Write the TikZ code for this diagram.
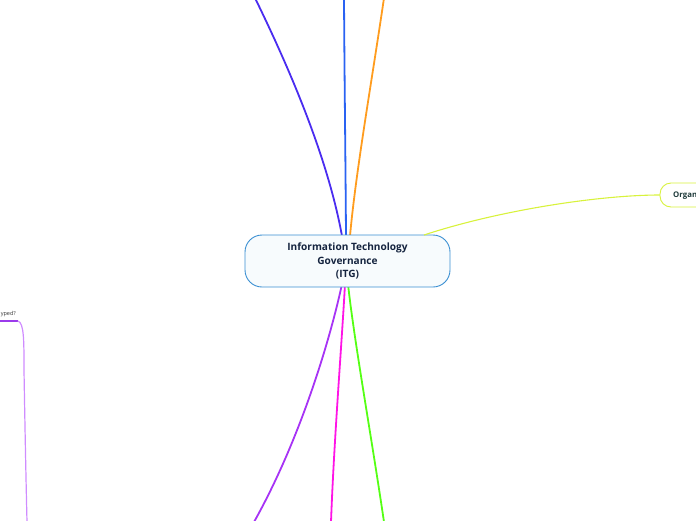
\documentclass[tikz,border=0pt]{standalone}
\usepackage{fontspec}
\setmainfont{Open Sans}
\begin{document}
\begin{tikzpicture}[x=1pt,y=-1pt,
  branch/.style={line width=1.8pt},
  central/.style={draw=ctrborder,fill=ctrfill,line width=0.9pt,rounded corners=17pt,minimum width=205pt,minimum height=52pt,inner sep=0pt,align=center,text=ctrtext,font=\fontsize{10.1}{13.6}\selectfont\bfseries},
  small/.style={font=\fontsize{5.5}{6}\selectfont,text=black!80,inner sep=0pt}]
\definecolor{ctrborder}{HTML}{3A8FD2}
\definecolor{ctrfill}{HTML}{F7FBFD}
\definecolor{ctrtext}{HTML}{15243F}
\definecolor{cviolet}{HTML}{4A2CF0}
\definecolor{cblue}{HTML}{2A62F2}
\definecolor{corange}{HTML}{FF9C1E}
\definecolor{cyellow}{HTML}{D8F23C}
\definecolor{cpurple}{HTML}{A733F5}
\definecolor{cmagenta}{HTML}{FF14E6}
\definecolor{cgreen}{HTML}{55FF14}
\definecolor{cleft}{HTML}{9B3BEB}
\definecolor{cleftlight}{HTML}{CF8CFF}
\definecolor{orgtext}{HTML}{1E3A3A}
\useasboundingbox (0,0) rectangle (696,520);
\clip (0,0) rectangle (696,520);
% free ends
\coordinate (tv) at (255,-2);
\coordinate (tb) at (344,-2);
\coordinate (to) at (384,-2);
\coordinate (bp) at (254,522);
\coordinate (bm) at (331,522);
\coordinate (bg) at (384,522);
\coordinate (lh) at (-2,321);
\coordinate (lc) at (18,321);
\coordinate (lb) at (27,522);
% branches
\draw[branch,cviolet] (tv) .. controls (300,90) and (330,170) .. (342,236);
\draw[branch,cblue] (tb) .. controls (344.5,80) and (345.5,160) .. (346,236);
\draw[branch,corange] (to) .. controls (372,80) and (356,170) .. (350,236);
\draw[branch,cpurple] (bp) .. controls (300,440) and (330,340) .. (342,284);
\draw[branch,cmagenta] (bm) .. controls (334,440) and (342,340) .. (345,284);
\draw[branch,cgreen] (bg) .. controls (372,440) and (354,340) .. (348,284);
% central node
\node[central] (c) at (347.5,261) {Information Technology\\Governance\\(ITG)};
% organisation node (cut at right edge)
\draw[cyellow,line width=0.9pt,fill=white,rounded corners=11pt] (760,183) -- (660,183) -- (660,207) -- (760,207);
\node[anchor=west,inner sep=0pt,text=orgtext,font=\fontsize{7.8}{9}\selectfont\bfseries] (org) at (673,195.5) {Organ};
\coordinate (orgin) at (660,195);
\draw[cyellow,line width=1.1pt] (424,235) .. controls (500,210) and (600,195) .. (orgin);
% left branch
\node[small,anchor=base east] (lt) at (16,315.5) {yped?};
\draw[cleft,line width=1.5pt] (lh) -- (lc);
\draw[cleftlight,line width=1.2pt] (lc) .. controls (24,323) and (24,340) .. (24,370) .. controls (25,430) and (26,480) .. (lb);
\end{tikzpicture}
\end{document}
